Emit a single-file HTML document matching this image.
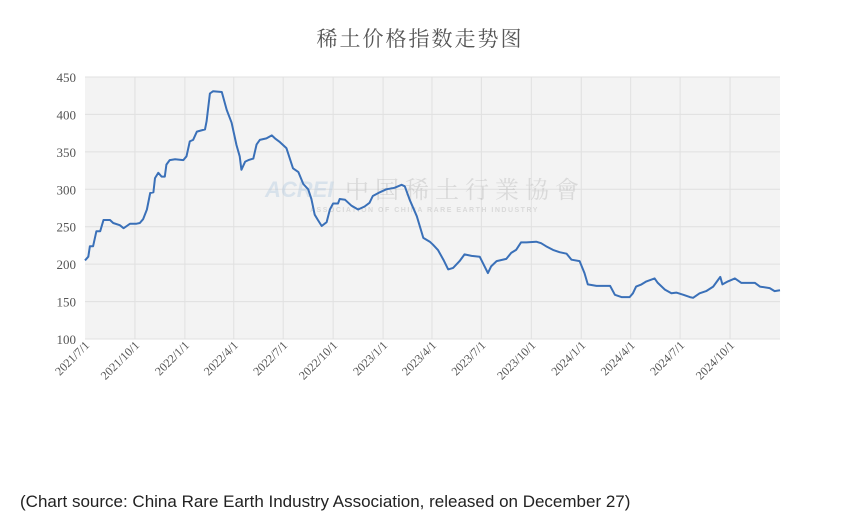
<!DOCTYPE html>
<html><head><meta charset="utf-8"><style>
body{margin:0;background:#fff;width:841px;height:526px;overflow:hidden;font-family:"Liberation Sans",sans-serif}
#cap{position:absolute;left:20px;top:492px;font-size:17px;color:#222}
</style></head><body>
<svg id="chart" width="841" height="526" style="position:absolute;left:0;top:0">
<text x="420" y="46" text-anchor="middle" font-family="'Liberation Serif','Noto Serif CJK SC',serif" font-size="21" fill="#555" letter-spacing="2">稀土价格指数走势图</text>
<rect x="85" y="77" width="695" height="262" fill="#f3f3f3"/>
<g id="grid"></g>
<g opacity="0.35">
<text x="265" y="197" font-family="'Liberation Sans',sans-serif" font-style="italic" font-weight="bold" font-size="22" fill="#a9c3dd">ACREI</text>
<text x="345" y="198" font-family="'Noto Serif CJK SC',serif" font-size="24" fill="#aaa" letter-spacing="6">中国稀土行業協會</text>
<text x="310" y="212" font-family="'Liberation Sans',sans-serif" font-size="7" font-weight="bold" fill="#aaa" letter-spacing="1.5">ASSOCIATION OF CHINA RARE EARTH INDUSTRY</text>
</g>
<g id="axes"></g>
<path id="line" fill="none" stroke="#3a70b8" stroke-width="2" stroke-linejoin="round"/>
</svg>
<div id="cap">(Chart source: China Rare Earth Industry Association, released on December 27)</div>
<script>
const days=[0,6,9,15,21,28,34,46,52,64,71,83,95,101,107,114,120,126,129,135,141,147,150,156,166,181,187,193,199,206,221,224,230,236,252,261,270,279,285,288,295,301,310,316,322,334,344,350,359,371,383,393,402,411,417,423,429,436,445,451,457,466,469,479,491,503,515,524,530,543,555,570,583,589,598,611,623,635,641,650,660,669,678,690,699,712,727,736,742,748,758,776,785,794,803,813,831,840,849,862,874,887,896,911,920,926,942,967,976,988,1003,1009,1015,1025,1034,1049,1055,1068,1080,1089,1102,1114,1120,1132,1144,1157,1166,1170,1174,1184,1197,1209,1234,1243,1261,1270,1280];
const values=[205,210,224,224,244,244,259,259,255,252,248,254,254,255,260,273,295,296,315,322,317,317,333,339,340,339,344,364,366,377,380,391,428,431,430,406,389,359,344,326,337,339,341,360,366,368,372,368,363,355,328,323,307,300,287,266,259,251,256,273,281,281,287,286,278,273,277,282,291,296,300,302,306,304,286,264,235,230,226,219,206,193,195,204,213,211,210,197,188,197,204,207,215,219,229,229,230,228,224,219,216,214,206,204,188,173,171,171,159,156,156,161,170,173,177,181,175,166,161,162,159,156,155,161,164,170,179,183,173,177,181,175,175,170,168,164,165];
const yTicks=[100,150,200,250,300,350,400,450];
const xTickLabels=["2021/7/1","2021/10/1","2022/1/1","2022/4/1","2022/7/1","2022/10/1","2023/1/1","2023/4/1","2023/7/1","2023/10/1","2024/1/1","2024/4/1","2024/7/1","2024/10/1"];
const xTickDays=[0,92,184,274,365,457,549,639,730,822,914,1005,1096,1188];
const L=85,R=780,T=77,B=339,NS="http://www.w3.org/2000/svg";
const xs=d=>L+d/1280*(R-L);
const ys=v=>B-(v-100)/350*(B-T);
const grid=document.getElementById('grid'),axes=document.getElementById('axes');
function mk(tag,at,parent){const e=document.createElementNS(NS,tag);for(const k in at)e.setAttribute(k,at[k]);parent.appendChild(e);return e;}
yTicks.forEach(v=>{
 const l=mk('line',{x1:L,x2:R,y1:ys(v),y2:ys(v),stroke:'#e0e0e0','stroke-width':1},grid);
 
 
 const t=mk('text',{x:76,y:ys(v)+5,'text-anchor':'end','font-family':"'Liberation Serif',serif",'font-size':13,fill:'#555'},axes);
 t.textContent=v;
 
 
});
xTickDays.forEach((d,i)=>{
 const x=xs(d);
 if(i>0){const l=mk('line',{x1:x,x2:x,y1:T,y2:B,stroke:'#e0e0e0','stroke-width':1},grid);
 
 }
 const t=mk('text',{x:x+5,y:346,'text-anchor':'end','font-family':"'Liberation Serif',serif",'font-size':12,fill:'#555',transform:`rotate(-45 ${x+5} 346)`},axes);
 t.textContent=xTickLabels[i];
 
 
});
let d='';
days.forEach((dd,i)=>{d+=(i?'L':'M')+xs(dd).toFixed(1)+' '+ys(values[i]).toFixed(1);});
document.getElementById('line').setAttribute('d',d);
</script>
</body></html>
